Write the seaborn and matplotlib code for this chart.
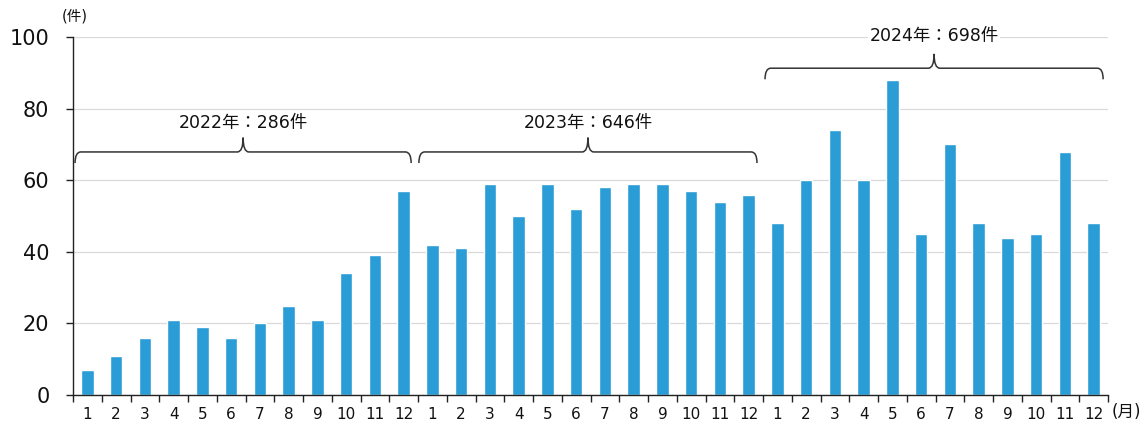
import numpy as np
import pandas as pd
import matplotlib
matplotlib.use("Agg")
import matplotlib.pyplot as plt
from matplotlib.path import Path
from matplotlib.patches import PathPatch
import seaborn as sns

# ---- data ----
months = [str(m) for m in range(1, 13)]
v2022 = [7, 11, 16, 21, 19, 16, 20, 25, 21, 34, 39, 57]
v2023 = [42, 41, 59, 50, 59, 52, 58, 59, 59, 57, 54, 56]
v2024 = [48, 60, 74, 60, 88, 45, 70, 48, 44, 45, 68, 48]
year_labels = ["2022年：286件", "2023年：646件", "2024年：698件"]
y_ticks = [0, 20, 40, 60, 80, 100]

values = v2022 + v2023 + v2024
tick_labels = months * 3
df = pd.DataFrame({"pos": list(range(len(values))), "count": values})

sns.set_theme(style="white")
FAM = ["DejaVu Sans", "Noto Sans CJK JP"]
plt.rcParams["font.family"] = FAM

fig = plt.figure(figsize=(11.45, 4.26), dpi=100)
ax = fig.add_axes([0.0638, 0.0728, 0.9039, 0.8402])

sns.barplot(data=df, x="pos", y="count", color="#2a9dd6", saturation=1,
            width=0.43, ax=ax, errorbar=None)

ax.set_xlim(-0.5, len(values) - 0.5)
ax.set_ylim(0, 100)
ax.set_yticks(y_ticks)
ax.set_yticklabels([str(t) for t in y_ticks], fontsize=15, color="#111111")
ax.set_xticks(range(len(values)))
ax.set_xticklabels(tick_labels, fontsize=11, color="#111111")
ax.set_xlabel("")
ax.set_ylabel("")

ax.yaxis.grid(True, color="#d9d9d9", linewidth=0.9)
ax.set_axisbelow(True)
for s in ["top", "right"]:
    ax.spines[s].set_visible(False)
for s in ["left", "bottom"]:
    ax.spines[s].set_color("#222222")
    ax.spines[s].set_linewidth(1.0)

ax.tick_params(axis="y", which="major", length=5, width=1, color="#222222",
               direction="out", left=True, pad=12)
ax.tick_params(axis="x", which="major", length=0, pad=9)
ax.set_xticks(np.arange(-0.5, len(values), 1.0), minor=True)
ax.tick_params(axis="x", which="minor", length=5, width=1, color="#222222",
               direction="out", bottom=True)


def brace(ax, x0, x1, y, xc, drop=3.1, rise=4.0, rx=0.2):
    verts = [
        (x0, y - drop), (x0, y), (x0 + rx, y),
        (xc - rx, y), (xc, y), (xc, y + rise),
        (xc, y), (xc + rx, y),
        (x1 - rx, y), (x1, y), (x1, y - drop),
    ]
    codes = [Path.MOVETO, Path.CURVE3, Path.CURVE3,
             Path.LINETO, Path.CURVE3, Path.CURVE3,
             Path.CURVE3, Path.CURVE3,
             Path.LINETO, Path.CURVE3, Path.CURVE3]
    ax.add_patch(PathPatch(Path(verts, codes), fill=False, edgecolor="#333333",
                           linewidth=1.1, clip_on=False))


braces = [(-0.43, 11.26, 67.9, 76.0), (11.53, 23.29, 67.9, 76.0),
          (23.57, 35.33, 91.3, 100.3)]
for (x0, x1, yb, yt), lab in zip(braces, year_labels):
    xc = (x0 + x1) / 2
    brace(ax, x0, x1, yb, xc)
    ax.text(xc, yt, lab, ha="center", va="center", fontsize=12.5,
            color="#111111", family=FAM,
            bbox=dict(facecolor="white", edgecolor="none", pad=1))

fig.text(0.054, 0.962, "(件)", fontsize=10.5, ha="left", va="center",
         color="#111111", family=FAM)
fig.text(0.9705, 0.033, "(月)", fontsize=12, ha="left", va="center",
         color="#111111", family=FAM)

fig.savefig("out.png", dpi=100)
